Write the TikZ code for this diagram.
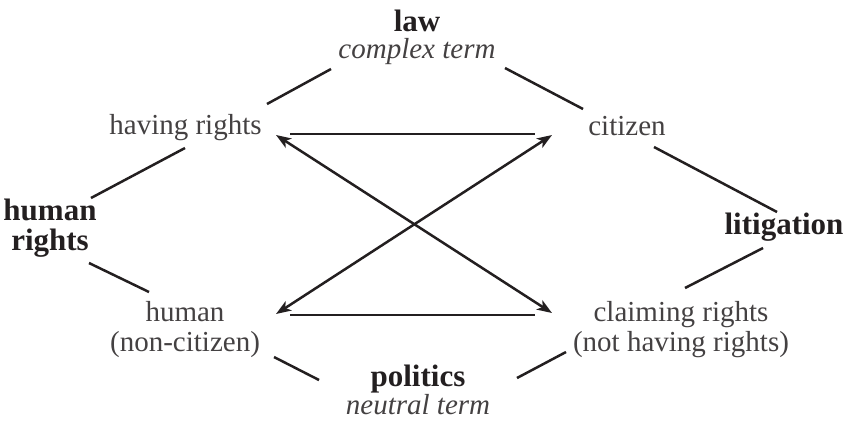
\documentclass[tikz,border=0pt]{standalone}
\usepackage{fontspec}
\setmainfont{Liberation Serif}
\usetikzlibrary{arrows.meta}

\definecolor{ink}{HTML}{231F20}
\newcommand{\hd}[1]{{\fontsize{15.5}{13}\selectfont\bfseries\color{ink}#1}}

\begin{document}
\begin{tikzpicture}[x=0.5pt,y=-0.5pt,
    term/.style={inner sep=0pt, text=ink!85, font=\fontsize{14.5}{15}\selectfont},
    pole/.style={term, align=center},
    bar/.style={draw=ink, line width=1.25pt},
    dual/.style={bar, {Stealth[length=7.5pt,width=5.5pt,inset=2pt]}-{Stealth[length=7.5pt,width=5.5pt,inset=2pt]}}]
    \useasboundingbox (0,0) rectangle (844,430);

    % the four corners
    \node[term, anchor=base] (having) at (185.5,134) {having rights};
    \node[term, anchor=base] (citizen) at (627,135) {citizen};
    \node[pole] (human) at (185,329.5) {human\\(non-citizen)};
    \node[pole] (claiming) at (681,330) {claiming rights\\(not having rights)};

    % the four sides
    \node[pole, font=\fontsize{14.5}{13.5}\selectfont] (law) at (417,37) {\hd{law}\\\textit{complex term}};
    \node[pole, font=\fontsize{14.5}{15}\selectfont] (hr) at (50,228) {\hd{human}\\\hd{rights}};
    \node[term, anchor=base] (litig) at (784,234) {\hd{litigation}};
    \node[pole, font=\fontsize{14.5}{13}\selectfont] (politics) at (418,390) {\hd{politics}\\\textit{neutral term}};

    % square round the terms
    \draw[bar] ([shift={(81.5,-30)}]having.base) -- ([shift={(-86,32)}]law.center);
    \draw[bar] ([shift={(-44,-26)}]citizen.base) -- ([shift={(88,31)}]law.center);
    \draw[bar] ([shift={(-0.5,14)}]having.base) -- ([shift={(41,-30)}]hr.center);
    \draw[bar] ([shift={(39,35)}]hr.center) -- ([shift={(-36,-37.5)}]human.center);
    \draw[bar] ([shift={(27,12)}]citizen.base) -- ([shift={(-7,-22)}]litig.base);
    \draw[bar] ([shift={(4,-42)}]claiming.center) -- ([shift={(-21,14)}]litig.base);
    \draw[bar] ([shift={(89,27.5)}]human.center) -- ([shift={(-99,-10)}]politics.center);
    \draw[bar] ([shift={(-115,22)}]claiming.center) -- ([shift={(99,-12)}]politics.center);

    % contraries and contradictories
    \draw[bar] ([shift={(104.5,0)}]having.base) -- ([shift={(-92,-1)}]citizen.base);
    \draw[bar] ([shift={(105,-14.5)}]human.center) -- ([shift={(-146,-15)}]claiming.center);
    \draw[dual] ([shift={(90.5,1)}]having.base) -- ([shift={(-129,-17)}]claiming.center);
    \draw[dual] ([shift={(-75,0)}]citizen.base) -- ([shift={(91,-15.5)}]human.center);
\end{tikzpicture}
\end{document}
